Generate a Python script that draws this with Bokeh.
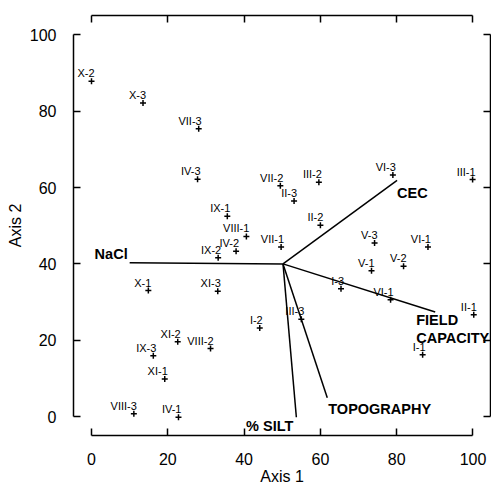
from bokeh.plotting import figure
from bokeh.models import LinearAxis, FixedTicker, Range1d, ColumnDataSource
from bokeh.core.properties import value
from bokeh.embed import file_html
from bokeh.resources import INLINE

# Sample scores (Axis 1, Axis 2)
labels = ["X-2", "X-3", "VII-3", "IV-3", "IX-1", "VIII-1", "VII-2", "II-3", "III-2",
          "VI-3", "III-1", "II-2", "VII-1", "V-3", "VI-1", "IX-2", "IV-2", "X-1",
          "XI-3", "I-2", "XI-2", "VIII-2", "IX-3", "XI-1", "VIII-3", "IV-1",
          "V-1", "V-2", "I-3", "VI-1", "II-1", "I-1", "III-3"]
axis1 = [0.0, 13.5, 28.1, 27.8, 35.6, 40.6, 49.5, 53.1, 59.6,
         79.0, 99.9, 60.0, 49.7, 74.2, 88.2, 33.2, 37.9, 14.9,
         33.1, 44.1, 22.6, 31.2, 16.2, 19.2, 11.1, 22.8,
         73.4, 81.8, 65.4, 78.4, 100.2, 86.8, 55.0]
axis2 = [87.9, 82.2, 75.4, 62.2, 52.5, 47.2, 60.5, 56.5, 61.4,
         63.3, 62.1, 50.1, 44.4, 45.5, 44.4, 41.6, 43.3, 33.0,
         32.8, 23.2, 19.6, 17.8, 15.9, 9.8, 0.7, -0.2,
         38.2, 39.4, 33.5, 30.6, 26.7, 16.2, 25.5]

# Environmental vectors (biplot arrows) from a common origin
vec_names = ["NaCl", "CEC", "FIELD\nCAPACITY", "TOPOGRAPHY", "% SILT"]
vec_origin_x = [50.2, 50.2, 50.2, 50.2, 50.2]
vec_origin_y = [40.0, 40.0, 40.0, 40.0, 40.0]
vec_end_x = [10.0, 80.1, 90.1, 61.8, 53.7]
vec_end_y = [40.3, 61.9, 27.4, 4.9, -0.2]

ticks = [0, 20, 40, 60, 80, 100]

FONT = "Liberation Sans"

p = figure(width=491, height=493, output_backend="svg", toolbar_location=None,
           x_range=Range1d(-4.72, 104.59), y_range=Range1d(-4.98, 105.11),
           x_axis_location=None, y_axis_location=None,
           min_border_left=73, min_border_right=1, min_border_top=15, min_border_bottom=58)
p.grid.visible = False
p.outline_line_color = None
p.background_fill_color = "white"
p.border_fill_color = "white"


def make_axis(label=None, show_labels=True):
    ax = LinearAxis(ticker=FixedTicker(ticks=ticks), bounds=(0, 100))
    ax.major_tick_in = 7
    ax.major_tick_out = 0
    ax.minor_tick_in = 0
    ax.minor_tick_out = 0
    ax.axis_line_width = 1.5
    ax.major_tick_line_width = 1.5
    ax.axis_line_color = "black"
    ax.major_tick_line_color = "black"
    if show_labels:
        ax.major_label_text_font = FONT
        ax.major_label_text_font_size = "16px"
        ax.major_label_text_color = "black"
    else:
        ax.major_label_text_font_size = "0px"
        ax.major_label_text_color = None
        ax.major_label_standoff = 0
    if label:
        ax.axis_label = label
        ax.axis_label_text_font = FONT
        ax.axis_label_text_font_size = "16px"
        ax.axis_label_text_font_style = "normal"
        ax.axis_label_text_color = "black"
    return ax


bottom = make_axis("Axis 1")
bottom.major_label_standoff = 17
bottom.axis_label_standoff = 0
left = make_axis("Axis 2")
left.major_label_standoff = 17
left.axis_label_standoff = 3
top = make_axis(show_labels=False)
right = make_axis(show_labels=False)
p.add_layout(bottom, "below")
p.add_layout(left, "left")
p.add_layout(top, "above")
p.add_layout(right, "right")

# vectors
vsrc = ColumnDataSource(dict(x0=vec_origin_x, y0=vec_origin_y, x1=vec_end_x, y1=vec_end_y))
p.segment(x0="x0", y0="y0", x1="x1", y1="y1", source=vsrc, line_color="black", line_width=1.5)

# sample points
src = ColumnDataSource(dict(x=axis1, y=axis2, lab=labels))
p.scatter(x="x", y="y", source=src, marker="cross", size=6, line_color="black", line_width=1.5)
p.text(x="x", y="y", text="lab", source=src, text_font=value(FONT), text_font_size="11px",
       text_align="right", text_baseline="alphabetic", x_offset=3, y_offset=-8, text_color="black")

# vector labels: (align, baseline, x_offset, y_offset)
vec_label_style = [
    ("right", "alphabetic", -2, -9),
    ("left", "alphabetic", 0, 13),
    ("left", "top", -19, 0),
    ("left", "alphabetic", 1, 11),
    ("right", "alphabetic", -3, 9),
]
for i, name in enumerate(vec_names):
    al, bl, xo, yo = vec_label_style[i]
    p.text(x=[vec_end_x[i]], y=[vec_end_y[i]], text=[name], text_font=value(FONT),
           text_font_size="14.5px", text_font_style="bold", text_align=al, text_baseline=bl,
           x_offset=xo, y_offset=yo, text_color="black", text_line_height=1.1)

open("out.html", "w").write(file_html(p, INLINE))
